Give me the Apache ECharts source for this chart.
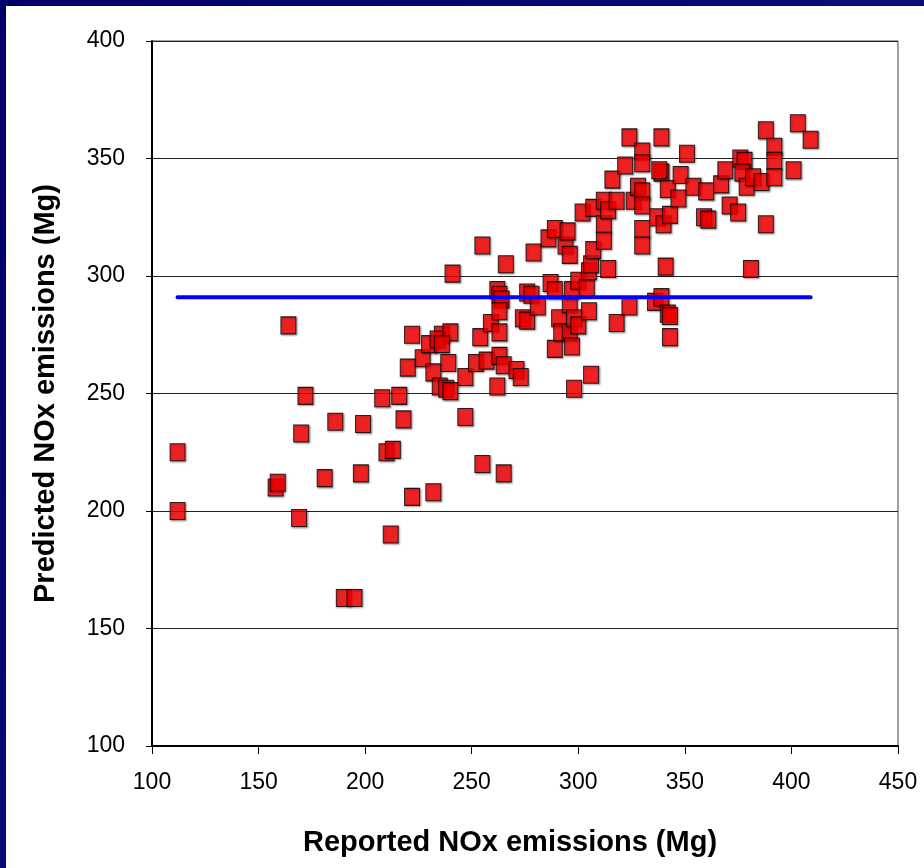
<!DOCTYPE html>
<html>
<head>
<meta charset="utf-8">
<script src="https://cdn.jsdelivr.net/npm/echarts@6/dist/echarts.min.js"></script>
<style>
  html, body { margin: 0; padding: 0; background: #0a0a78; }
  #noxChart { width: 924px; height: 868px; }
</style>
</head>
<body>
<div id="noxChart"></div>
<script>
'use strict';

// reported vs predicted NOx (Mg), one entry per plant
var reported = [
    112, 112, 158, 159, 164, 169, 170, 172, 181, 186, 190, 195, 198, 199, 208, 210,
    213, 212, 216, 218, 220, 222, 222, 227, 232, 232, 230, 236, 234, 240, 236, 239,
    235, 238, 240, 241, 247, 247, 252, 254, 255, 255, 257, 259, 262, 262, 263, 264,
    263, 263, 263, 265, 265, 266, 271, 273, 274, 276, 276, 278, 279, 281, 286, 287,
    289, 289, 289, 291, 292, 294, 295, 296, 296, 296, 297, 297, 298, 298, 300, 300,
    302, 304, 305, 305, 306, 306, 307, 307, 312, 312, 312, 314, 314, 316, 318, 318,
    322, 324, 324, 326, 328, 330, 330, 330, 330, 330, 330, 336, 337, 339, 339, 339,
    340, 341, 342, 342, 343, 343, 343, 347, 348, 351, 354, 359, 361, 360, 367, 369,
    371, 375, 376, 378, 377, 379, 381, 382, 386, 388, 388, 392, 392, 392, 401, 403,
    409, 338
];
var predicted = [
    225, 200, 210, 212, 279, 197, 233, 249, 214, 238, 163, 163, 216, 237, 248, 225,
    226, 190, 249, 239, 261, 275, 206, 265, 208, 259, 271, 275, 273, 276, 271, 263,
    253, 252, 251, 301, 257, 240, 263, 274, 220, 313, 264, 280, 253, 294, 292, 290,
    285, 276, 266, 262, 216, 305, 260, 257, 282, 281, 293, 292, 310, 287, 316, 297,
    320, 294, 269, 282, 276, 313, 319, 309, 288, 276, 294, 270, 282, 252, 279, 298,
    327, 295, 302, 285, 305, 258, 329, 311, 332, 322, 315, 328, 303, 341, 332, 280,
    347, 359, 287, 332, 338, 336, 353, 348, 330, 320, 313, 289, 325, 359, 344, 291,
    322, 304, 337, 284, 326, 283, 274, 333, 343, 352, 338, 325, 324, 336, 339, 345,
    330, 327, 350, 349, 344, 338, 303, 342, 340, 362, 322, 355, 349, 342, 345, 365,
    358, 345
];

// horizontal mean line across the reported range
var meanLineX = [112, 409];
var meanPredicted = 291;

var points = [];
for (var i = 0; i < reported.length; i++) {
    points.push([reported[i], predicted[i]]);
}
var meanLine = meanLineX.map(function (x) { return [x, meanPredicted]; });

var noxChart = echarts.init(document.getElementById('noxChart'));

var option = {
    backgroundColor: new echarts.graphic.LinearGradient(0, 0, 1, 1, [
        { offset: 0, color: '#000066' },
        { offset: 1, color: '#15158c' }
    ]),
    animation: false,
    textStyle: { fontFamily: '"Liberation Sans", Arial, sans-serif' },
    graphic: [{
        type: 'rect',
        left: 6,
        top: 6,
        shape: { width: 918, height: 862 },
        style: { fill: '#ffffff' },
        z: -10
    }],
    grid: {
        left: 152,
        right: 26,
        top: 41,
        bottom: 122,
        show: true,
        borderColor: '#444',
        borderWidth: 1
    },
    xAxis: {
        type: 'value',
        min: 100,
        max: 450,
        interval: 50,
        name: 'Reported NOx emissions (Mg)',
        nameLocation: 'middle',
        nameGap: 82,
        nameTextStyle: { fontSize: 29, fontWeight: 'bold', color: '#000', padding: [0, 30, 0, 0] },
        axisLine: { show: true, lineStyle: { color: '#000', width: 2 } },
        axisTick: { show: true, length: 8, lineStyle: { color: '#000' } },
        axisLabel: { fontSize: 23, color: '#000', margin: 25 },
        splitLine: { show: false }
    },
    yAxis: {
        type: 'value',
        min: 100,
        max: 400,
        interval: 50,
        name: 'Predicted NOx emissions (Mg)',
        nameLocation: 'middle',
        nameGap: 92,
        nameTextStyle: { fontSize: 29, fontWeight: 'bold', color: '#000' },
        axisLine: { show: true, lineStyle: { color: '#000', width: 2 } },
        axisTick: { show: true, length: 6, lineStyle: { color: '#000' } },
        axisLabel: { fontSize: 23, color: '#000', margin: 27 },
        splitLine: { show: true, lineStyle: { color: '#222', width: 1 } }
    },
    series: [{
        name: 'plants',
        type: 'scatter',
        data: points,
        symbol: 'rect',
        symbolSize: [15, 17],
        itemStyle: {
            color: '#ff0000',
            borderColor: '#000',
            borderWidth: 1,
            shadowColor: 'rgba(0,0,0,0.45)',
            shadowBlur: 2,
            shadowOffsetX: 1,
            shadowOffsetY: 1
        },
        z: 2
    }, {
        name: 'mean',
        type: 'line',
        data: meanLine,
        symbol: 'none',
        lineStyle: { color: '#0000ff', width: 4, cap: 'round' },
        z: 3
    }]
};

noxChart.setOption(option);
</script>
</body>
</html>
